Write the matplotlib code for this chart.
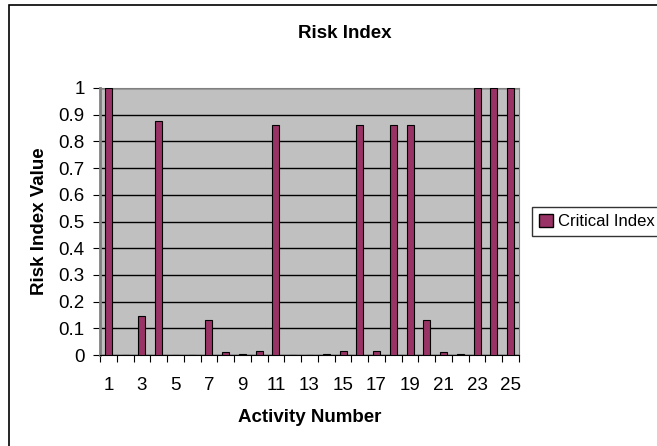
import matplotlib.pyplot as plt
import matplotlib.patches as mpatches
import numpy as np

plt.rcParams['font.family'] = ['Liberation Sans', 'DejaVu Sans']

# data
activity = np.arange(1, 26)
critical_index = [1.0, 0.0, 0.145, 0.875, 0.0, 0.0, 0.13, 0.012, 0.004, 0.016,
                  0.86, 0.0, 0.0, 0.004, 0.016, 0.86, 0.016, 0.86, 0.86, 0.13,
                  0.012, 0.004, 1.0, 1.0, 1.0]
y_ticks = np.arange(0, 1.01, 0.1)
y_labels = ['0', '0.1', '0.2', '0.3', '0.4', '0.5', '0.6', '0.7', '0.8', '0.9', '1']

W, H = 657, 446
fig = plt.figure(figsize=(W / 100, H / 100), dpi=100)

# chart area border (only left/top visible, rest cropped)
fig.patches.append(mpatches.Rectangle((9 / W, -0.1), 1.2, (H - 5) / H + 0.1,
                                      transform=fig.transFigure, fill=False,
                                      edgecolor='black', linewidth=1.2))

ax = fig.add_axes([100 / W, (H - 355) / H, 419 / W, (355 - 88) / H])
ax.set_facecolor('#C0C0C0')
ax.bar(activity, critical_index, width=0.42, color='#993366',
       edgecolor='black', linewidth=0.8, zorder=3, label='Critical Index')

ax.set_xlim(0.5, 25.5)
ax.set_ylim(0, 1)
ax.set_yticks(y_ticks)
ax.set_yticklabels(y_labels)
ax.yaxis.grid(True, color='black', linewidth=1, zorder=1)
ax.set_axisbelow(True)

# ticks between categories, labels on odd categories
ax.set_xticks(np.arange(0.5, 26, 1))
ax.set_xticklabels([])
ax.set_xticks(activity[::2], minor=True)
ax.set_xticklabels([str(a) for a in activity[::2]], minor=True)
ax.tick_params(axis='x', which='minor', length=0, pad=16, labelsize=13.5)
ax.tick_params(axis='x', which='major', length=5, direction='out', width=0.8)
ax.tick_params(axis='y', length=5, direction='out', width=0.8, labelsize=13.5, pad=6)

for side in ['top', 'right']:
    ax.spines[side].set_color('#808080')
ax.spines['left'].set_color('#808080')
ax.spines['left'].set_linewidth(2)
ax.spines['bottom'].set_color('black')

fig.text(345 / W, 1 - 33 / H, 'Risk Index', ha='center', va='center',
         fontsize=13.5, fontweight='bold')
fig.text(310 / W, 1 - 418 / H, 'Activity Number', ha='center', va='center',
         fontsize=13.5, fontweight='bold')
fig.text(40 / W, 1 - 221 / H, 'Risk Index Value', ha='center', va='center',
         fontsize=13.5, fontweight='bold', rotation=90)

handle = mpatches.Patch(facecolor='#993366', edgecolor='black', label='Critical Index')
leg = fig.legend(handles=[handle], loc='upper left',
                 bbox_to_anchor=(532 / W, 1 - 207 / H), fontsize=12,
                 frameon=True, fancybox=False, borderaxespad=0,
                 handlelength=0.85, handleheight=0.85, handletextpad=0.3,
                 borderpad=0.4)
leg.get_frame().set_edgecolor('black')
leg.get_frame().set_linewidth(1)

fig.savefig('out.png', dpi=100)
